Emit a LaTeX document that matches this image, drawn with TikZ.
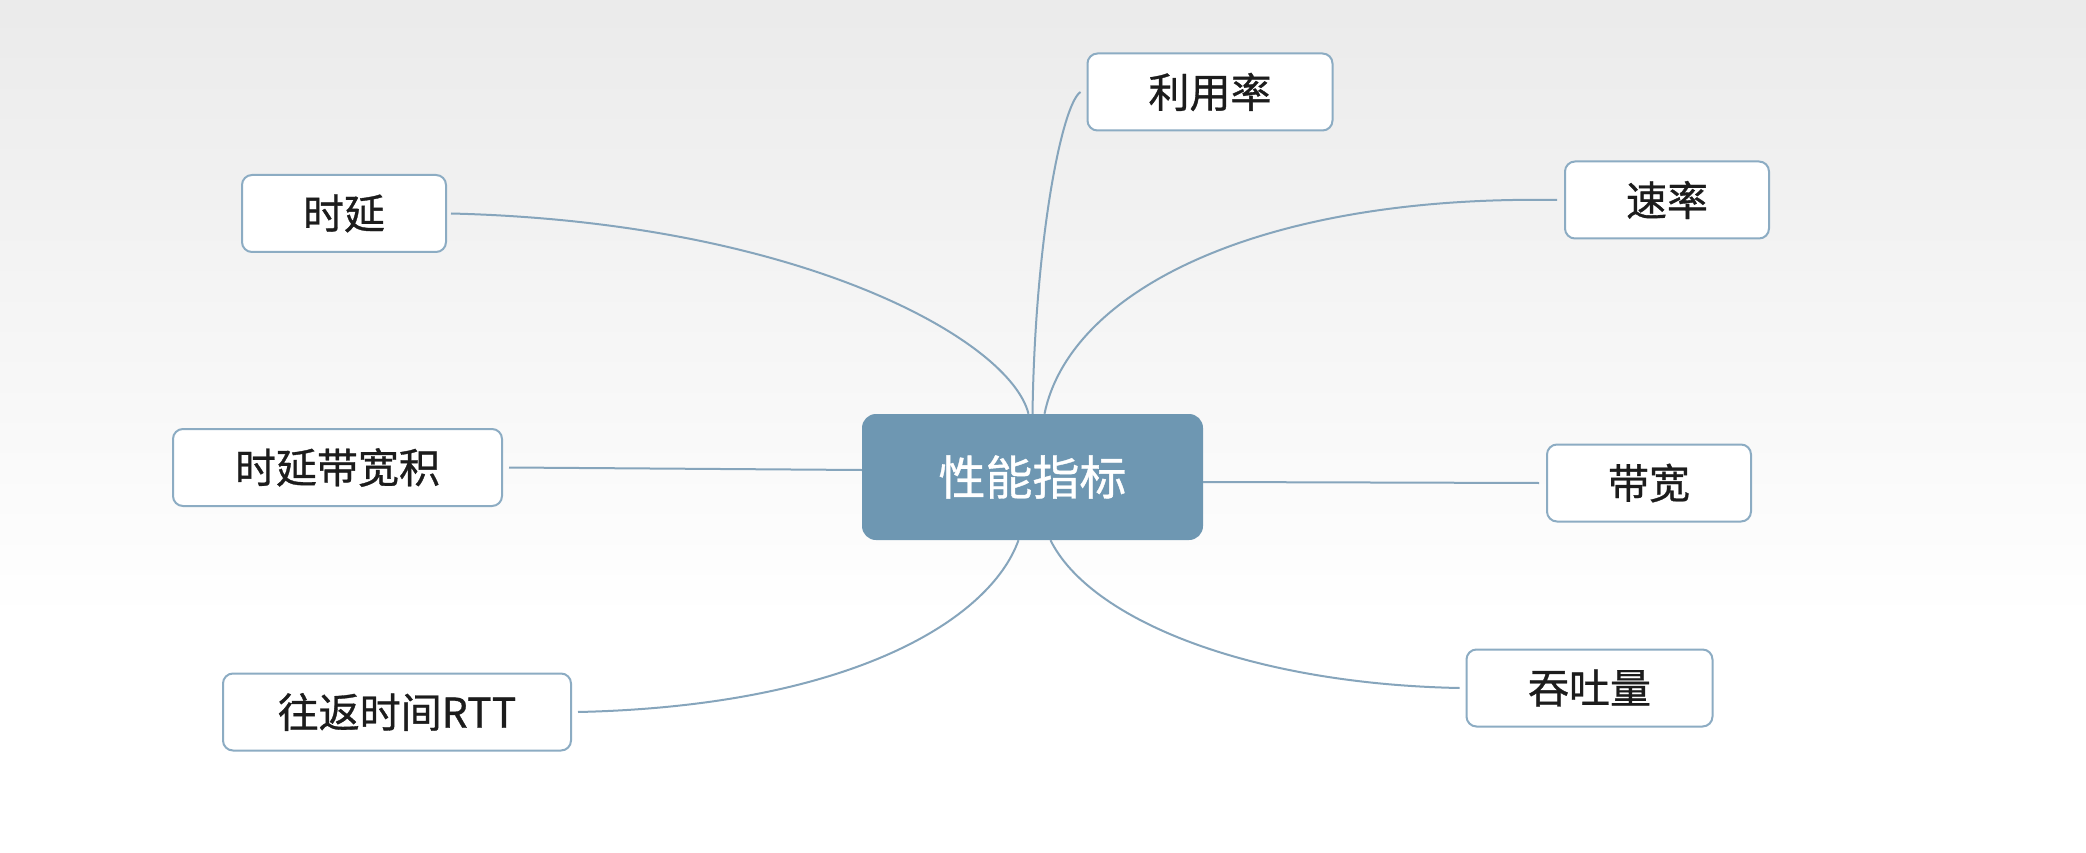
\documentclass[tikz,border=0pt]{standalone}
\usepackage{fontspec}
\setmainfont[FakeBold=0.8]{Noto Sans CJK SC}
\begin{document}
\begin{tikzpicture}[x=1pt,y=-1pt,
  leaf/.style={draw=boxline, line width=2pt, rounded corners=10pt, fill=white,
    text=textdark, font=\fontsize{41}{45}\selectfont, inner sep=0pt,
    minimum height=77pt, anchor=center},
  hub/.style={fill=hubfill, rounded corners=14pt, text=white,
    font=\fontsize{47}{52}\selectfont, minimum width=341pt, minimum height=126pt, inner sep=0pt},
  link/.style={draw=linkc, line width=2pt}
]
\definecolor{boxline}{HTML}{8CACC3}
\definecolor{linkc}{HTML}{86A5BC}
\definecolor{hubfill}{HTML}{6E97B2}
\definecolor{textdark}{HTML}{1C1C1C}
\useasboundingbox (0,0) rectangle (2086,853);
\shade[top color=black!8, bottom color=white] (0,0) rectangle (2086,620);
\fill[white] (0,620) rectangle (2086,853);

\node[hub] (c) at (1032.5,477) {性能指标};
\node[leaf, minimum width=245pt] (ly) at (1210,92) {利用率};
\node[leaf, minimum width=204pt] (sy) at (344,213.5) {时延};
\node[leaf, minimum width=204pt] (sl) at (1667,200) {速率};
\node[leaf, minimum width=329pt] (dk) at (337.5,467.5) {时延带宽积};
\node[leaf, minimum width=204pt] (dw) at (1649,483) {带宽};
\node[leaf, minimum width=348pt] (rtt) at (397,712) {往返时间RTT};
\node[leaf, minimum width=246pt] (tt) at (1589.5,688) {吞吐量};

\coordinate (c1) at ([xshift=-4pt]c.north);
\coordinate (c2) at ([xshift=0pt]c.north);
\coordinate (c3) at ([xshift=12pt]c.north);
\coordinate (c4) at ([xshift=-14pt]c.south);
\coordinate (c5) at ([xshift=18pt]c.south);

\draw[link] ([xshift=4pt]sy.east) .. controls (800,222) and (1010,340) .. (c1);
\draw[link] ([xshift=-6pt]ly.west) .. controls (1062,104) and (1035,240) .. (c2);
\draw[link] ([xshift=-7pt]sl.west) .. controls (1260,195) and (1070,290) .. (c3);
\draw[link] ([xshift=6pt]dk.east) -- ([yshift=7pt]c.west);
\draw[link] ([yshift=-5pt]c.east) -- ([xshift=-7pt]dw.west);
\draw[link] ([xshift=6pt]rtt.east) .. controls (850,706) and (990,620) .. (c4);
\draw[link] (c5) .. controls (1090,620) and (1250,684) .. ([xshift=-6pt]tt.west);
\end{tikzpicture}
\end{document}
